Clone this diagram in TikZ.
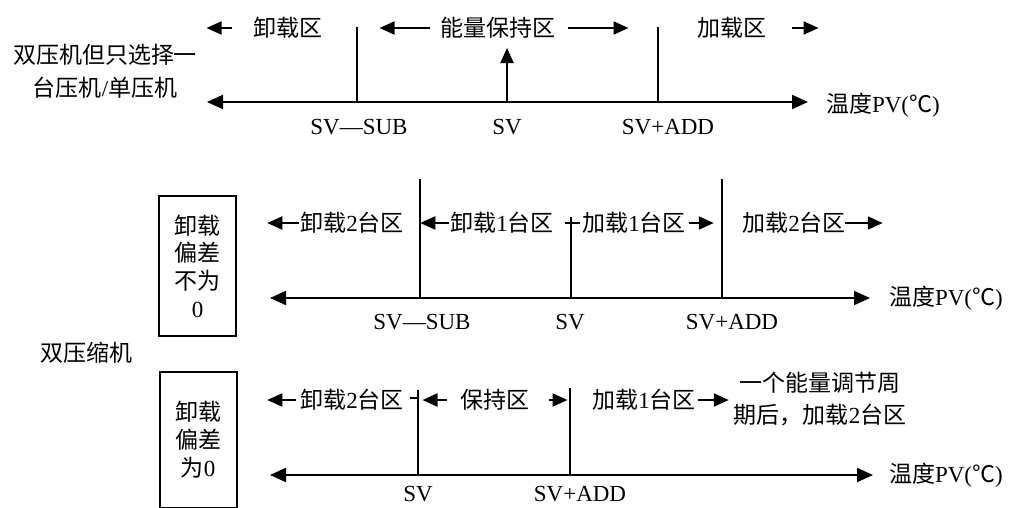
\documentclass[tikz,border=0pt]{standalone}
\usepackage{fontspec}
\setmainfont{Liberation Serif}
\newfontfamily\cjk{Noto Sans CJK SC}
\newcommand{\zh}[1]{{\cjk #1}}
\usetikzlibrary{arrows.meta}

\begin{document}
\begin{tikzpicture}[x=1pt, y=-1pt, line width=2pt,
  lbl/.style={inner sep=0pt, font=\fontsize{23}{27}\selectfont},
  tip/.style={-{Triangle[length=15pt,width=13pt]}},
  both/.style={{Triangle[length=16pt,width=14pt]}-{Triangle[length=16pt,width=14pt]}},
  zonebox/.style={draw, inner sep=0pt, minimum width=77pt, align=center}]

\useasboundingbox (0,0) rectangle (1013,507) ;
\clip (0,0) rectangle (1013,507) ;

\node[lbl, align=center, font=\fontsize{23}{33}\selectfont] (single) at (105,71.5) {\zh{双压机但只选择一}\\\zh{台压机}/\zh{单压机}} ;
\coordinate (a0) at (207,102) ;
\coordinate (a1) at (808,102) ;
\draw[both] (a0) -- (a1) ;
\node[lbl, anchor=west] (atemp) at (825,105) {\zh{温度}PV(\zh{℃})} ;
\coordinate (asub) at (357,102) ;
\coordinate (asv) at (507,102) ;
\coordinate (aadd) at (658,102) ;
\draw (asub) -- ++(0,-75) ;
\draw[tip] (asv) -- ++(0,-54) ;
\draw (aadd) -- ++(0,-75) ;
\node[lbl] (asubl) at (359,127) {SV—SUB} ;
\node[lbl] (asvl) at (507,127) {SV} ;
\node[lbl] (aaddl) at (668,127) {SV+ADD} ;
\node[lbl] (az1) at (288,28) {\zh{卸载区}} ;
\node[lbl] (az2) at (498,28) {\zh{能量保持区}} ;
\node[lbl] (az3) at (732,28) {\zh{加载区}} ;
\draw[tip] ([xshift=-21pt]az1.west) -- ++(-25,0) ;
\draw[tip] ([xshift=-10pt]az2.west) -- ++(-50,0) ;
\draw[tip] ([xshift=11pt]az2.east) -- ++(61,0) ;
\draw[tip] ([xshift=24pt]az3.east) -- ++(27,0) ;

\node[lbl] (dual) at (86,353) {\zh{双压缩机}} ;

\node[zonebox, minimum height=140pt, font=\fontsize{23}{27.7}\selectfont] (bbox) at (197.5,266) {\zh{卸载}\\\zh{偏差}\\\zh{不为}\\0} ;
\coordinate (b0) at (270,298) ;
\coordinate (b1) at (870,298) ;
\draw[both] (b0) -- (b1) ;
\node[lbl, anchor=west] (btemp) at (888,298) {\zh{温度}PV(\zh{℃})} ;
\coordinate (bsub) at (420,298) ;
\coordinate (bsv) at (571,298) ;
\coordinate (badd) at (722,298) ;
\draw (bsub) -- ++(0,-119) ;
\draw (bsv) -- ++(0,-81) ;
\draw (badd) -- ++(0,-119) ;
\draw (565,223) -- (580,223) ;
\node[lbl] (bsubl) at (422,322) {SV—SUB} ;
\node[lbl] (bsvl) at (570,322) {SV} ;
\node[lbl] (baddl) at (732,322) {SV+ADD} ;
\node[lbl] (bz1) at (352,223) {\zh{卸载}2\zh{台区}} ;
\node[lbl] (bz2) at (502,223) {\zh{卸载}1\zh{台区}} ;
\node[lbl] (bz3) at (634,223) {\zh{加载}1\zh{台区}} ;
\node[lbl] (bz4) at (794,223) {\zh{加载}2\zh{台区}} ;
\draw[tip] ([xshift=0pt]bz1.west) -- ++(-32,0) ;
\draw[tip] ([xshift=0pt]bz2.west) -- ++(-29,0) ;
\draw[tip] ([xshift=2pt]bz3.east) -- ++(25,0) ;
\draw[tip] ([xshift=-2pt]bz4.east) -- ++(38,0) ;

\node[zonebox, minimum height=136pt, font=\fontsize{23}{28}\selectfont] (cbox) at (198,440) {\zh{卸载}\\\zh{偏差}\\\zh{为}0} ;
\coordinate (c0) at (270,475) ;
\coordinate (c1) at (873,475) ;
\draw[both] (c0) -- (c1) ;
\node[lbl, anchor=west] (ctemp) at (888,475) {\zh{温度}PV(\zh{℃})} ;
\coordinate (csv) at (418,475) ;
\coordinate (cadd) at (570,475) ;
\draw (csv) -- ++(0,-85) ;
\draw (cadd) -- ++(0,-87) ;
\draw (410,398) -- (418,398) ;
\node[lbl] (csvl) at (418,494) {SV} ;
\node[lbl] (caddl) at (580,494) {SV+ADD} ;
\node[lbl] (cz1) at (352,400) {\zh{卸载}2\zh{台区}} ;
\node[lbl] (cz2) at (495,400) {\zh{保持区}} ;
\node[lbl] (cz3) at (644,400) {\zh{加载}1\zh{台区}} ;
\node[lbl, align=center, font=\fontsize{23}{32}\selectfont] (cnote) at (820,399) {\zh{一个能量调节周}\\\zh{期后，加载}2\zh{台区}} ;
\draw[tip] ([xshift=-3pt]cz1.west) -- ++(-29,0) ;
\draw[tip] ([xshift=-13pt]cz2.west) -- ++(-24,0) ;
\draw[tip] ([xshift=18pt]cz2.east) -- ++(19,0) ;
\draw[tip] ([xshift=1pt]cz3.east) -- ++(31,0) ;
\end{tikzpicture}
\end{document}
